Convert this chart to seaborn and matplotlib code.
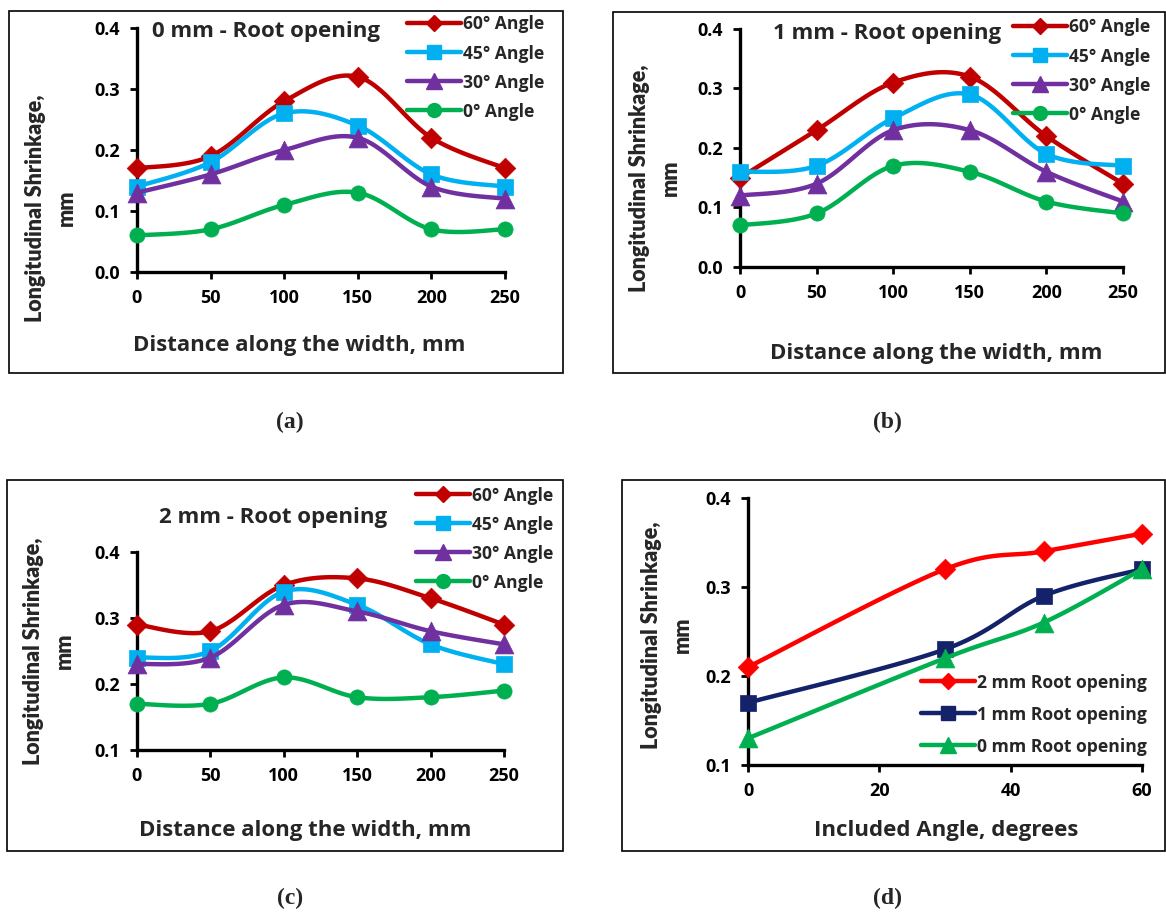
import numpy as np
import matplotlib
matplotlib.use("Agg")
import matplotlib.pyplot as plt
from matplotlib.lines import Line2D
from matplotlib.patches import Rectangle
from matplotlib.ticker import FormatStrFormatter
import seaborn as sns

# --- data ---
dist_mm = [0, 50, 100, 150, 200, 250]
angle_deg = [0, 30, 45, 60]
angle_labels = ["60° Angle", "45° Angle", "30° Angle", "0° Angle"]
root_labels = ["2 mm Root opening", "1 mm Root opening", "0 mm Root opening"]

# 0 mm root opening
r0_a60 = [0.17, 0.19, 0.28, 0.32, 0.22, 0.17]
r0_a45 = [0.14, 0.18, 0.26, 0.24, 0.16, 0.14]
r0_a30 = [0.13, 0.16, 0.20, 0.22, 0.14, 0.12]
r0_a0 = [0.06, 0.07, 0.11, 0.13, 0.07, 0.07]
# 1 mm root opening
r1_a60 = [0.15, 0.23, 0.31, 0.32, 0.22, 0.14]
r1_a45 = [0.16, 0.17, 0.25, 0.29, 0.19, 0.17]
r1_a30 = [0.12, 0.14, 0.23, 0.23, 0.16, 0.11]
r1_a0 = [0.07, 0.09, 0.17, 0.16, 0.11, 0.09]
# 2 mm root opening
r2_a60 = [0.29, 0.28, 0.35, 0.36, 0.33, 0.29]
r2_a45 = [0.24, 0.25, 0.34, 0.32, 0.26, 0.23]
r2_a30 = [0.23, 0.24, 0.32, 0.31, 0.28, 0.26]
r2_a0 = [0.17, 0.17, 0.21, 0.18, 0.18, 0.19]
# max shrinkage vs included angle
max_r2 = [0.21, 0.32, 0.34, 0.36]
max_r1 = [0.17, 0.23, 0.29, 0.32]
max_r0 = [0.13, 0.22, 0.26, 0.32]

angle_colors = ["#C00000", "#00B0F0", "#7030A0", "#00B050"]
angle_markers = ["D", "s", "^", "o"]
root_colors = ["#FF0000", "#14226A", "#00B050"]
root_markers = ["D", "s", "^"]

sns.set_style("ticks")
plt.rcParams['font.family'] = ['Open Sans', 'DejaVu Sans']
plt.rcParams['font.weight'] = 'bold'

W, H = 1166, 913
fig = plt.figure(figsize=(W / 100, H / 100), dpi=100)


def fx(px):
    return px / W


def fy(py):
    return 1 - py / H


def smooth(x, y, n=24):
    # Excel-style smoothed line (Catmull-Rom through the points)
    p = np.column_stack([x, y]).astype(float)
    p = np.vstack([p[0], p, p[-1]])
    out = []
    t = np.linspace(0, 1, n)[:, None]
    for i in range(1, len(p) - 2):
        p0, p1, p2, p3 = p[i - 1], p[i], p[i + 1], p[i + 2]
        c1 = p1 + (p2 - p0) / 6
        c2 = p2 - (p3 - p1) / 6
        seg = ((1 - t) ** 3) * p1 + 3 * ((1 - t) ** 2) * t * c1 + 3 * (1 - t) * t ** 2 * c2 + t ** 3 * p2
        out.append(seg if i == 1 else seg[1:])
    out = np.vstack(out)
    return out[:, 0], out[:, 1]


def make_axes(x0, x1, ytop, ybot):
    return fig.add_axes([fx(x0), fy(ybot), (x1 - x0) / W, (ybot - ytop) / H])


def box(x0, y0, x1, y1):
    fig.patches.append(Rectangle((fx(x0), fy(y1)), (x1 - x0) / W, (y1 - y0) / H,
                                 transform=fig.transFigure, fill=False,
                                 edgecolor="black", linewidth=1.2))


def style_axes(ax, xlim, ylim, xticks, yticks):
    ax.set_xlim(*xlim)
    ax.set_ylim(*ylim)
    ax.set_xticks(xticks)
    ax.set_yticks(yticks)
    ax.yaxis.set_major_formatter(FormatStrFormatter('%.1f'))
    for s in ["top", "right"]:
        ax.spines[s].set_visible(False)
    for s in ["left", "bottom"]:
        ax.spines[s].set_linewidth(2.4)
        ax.spines[s].set_color("black")
    ax.tick_params(direction="out", length=5, width=2, labelsize=13, pad=7, colors="black")
    for lab in ax.get_xticklabels() + ax.get_yticklabels():
        lab.set_fontweight("bold")
    ax.set_xlabel("")
    ax.set_ylabel("")
    ax.patch.set_alpha(0)


def draw_series(ax, x, series, colors, markers, sizes):
    for k, (y, c, m) in enumerate(zip(series, colors, markers)):
        sx, sy = smooth(x, y)
        sns.lineplot(x=sx, y=sy, sort=False, color=c, lw=3.2, ax=ax, zorder=3 + 2 * k)
        sns.scatterplot(x=x, y=y, marker=m, s=sizes[m], color=c, edgecolor=c,
                        linewidth=0.5, ax=ax, zorder=4 + 2 * k, clip_on=False)


def legend(ax, labels, colors, markers, x, ytop, spacing):
    handles = [Line2D([], [], color=c, lw=3.2, marker=m,
                      markersize={"D": 8.5, "s": 10, "^": 12, "o": 10}[m])
               for c, m in zip(colors, markers)]
    ax.legend(handles, labels, loc="upper left", bbox_to_anchor=(fx(x), fy(ytop)),
              bbox_transform=fig.transFigure, frameon=False, borderpad=0,
              borderaxespad=0, handlelength=3.1, handletextpad=0.1,
              labelspacing=spacing, prop={"size": 12.6, "weight": "bold"})


def ylabel(x, y):
    fig.text(fx(x), fy(y), "Longitudinal Shrinkage,\nmm", rotation=90, fontsize=15.5,
             fontweight="heavy", ha="center", va="center", multialignment="center",
             linespacing=1.6, family=["Lato", "DejaVu Sans"])


sizes = {"D": 110, "s": 120, "^": 185, "o": 120}

# (a) 0 mm
box(9, 11, 563, 373)
ax = make_axes(137, 505, 28, 272)
draw_series(ax, dist_mm, [r0_a60, r0_a45, r0_a30, r0_a0], angle_colors, angle_markers, sizes)
style_axes(ax, (0, 250), (0, 0.4), dist_mm, [0, 0.1, 0.2, 0.3, 0.4])
legend(ax, angle_labels, angle_colors, angle_markers, 407, 15.5, 0.63)
fig.text(fx(152), fy(32), "0 mm - Root opening", fontsize=16, fontweight="bold", va="center")
fig.text(fx(299), fy(345), "Distance along the width, mm", fontsize=16, fontweight="bold", ha="center", va="center")
ylabel(51, 208)

# (b) 1 mm
box(613, 12, 1165, 373)
ax = make_axes(740, 1123, 29, 267)
draw_series(ax, dist_mm, [r1_a60, r1_a45, r1_a30, r1_a0], angle_colors, angle_markers, sizes)
style_axes(ax, (0, 250), (0, 0.4), dist_mm, [0, 0.1, 0.2, 0.3, 0.4])
legend(ax, angle_labels, angle_colors, angle_markers, 1013, 18.5, 0.63)
fig.text(fx(773), fy(33), "1 mm - Root opening", fontsize=16, fontweight="bold", va="center")
fig.text(fx(936), fy(353), "Distance along the width, mm", fontsize=16, fontweight="bold", ha="center", va="center")
ylabel(655, 178)

# (c) 2 mm
box(7, 480, 563, 851)
ax = make_axes(137, 504, 552, 750)
draw_series(ax, dist_mm, [r2_a60, r2_a45, r2_a30, r2_a0], angle_colors, angle_markers, sizes)
style_axes(ax, (0, 250), (0.1, 0.4), dist_mm, [0.1, 0.2, 0.3, 0.4])
legend(ax, angle_labels, angle_colors, angle_markers, 416, 486.5, 0.63)
fig.text(fx(159), fy(517), "2 mm - Root opening", fontsize=16, fontweight="bold", va="center")
fig.text(fx(305), fy(830), "Distance along the width, mm", fontsize=16, fontweight="bold", ha="center", va="center")
ylabel(49, 651)

# (d) vs included angle
box(622, 480, 1165, 851)
ax = make_axes(748, 1142, 498, 765)
draw_series(ax, angle_deg, [max_r2, max_r1, max_r0], root_colors, root_markers, sizes)
style_axes(ax, (0, 60), (0.1, 0.4), [0, 20, 40, 60], [0.1, 0.2, 0.3, 0.4])
legend(ax, root_labels, root_colors, root_markers, 921, 673.5, 0.8)
fig.text(fx(946), fy(830), "Included Angle, degrees", fontsize=16, fontweight="bold", ha="center", va="center")
ylabel(667, 635)

# panel captions
for lab, x, y in [("(a)", 290, 422), ("(b)", 887, 422), ("(c)", 290, 898), ("(d)", 887, 898)]:
    fig.text(fx(x), fy(y), lab, fontsize=17, fontweight="bold", ha="center", va="center",
             family=["Liberation Serif", "DejaVu Serif"])

fig.savefig("out.png", dpi=100)
